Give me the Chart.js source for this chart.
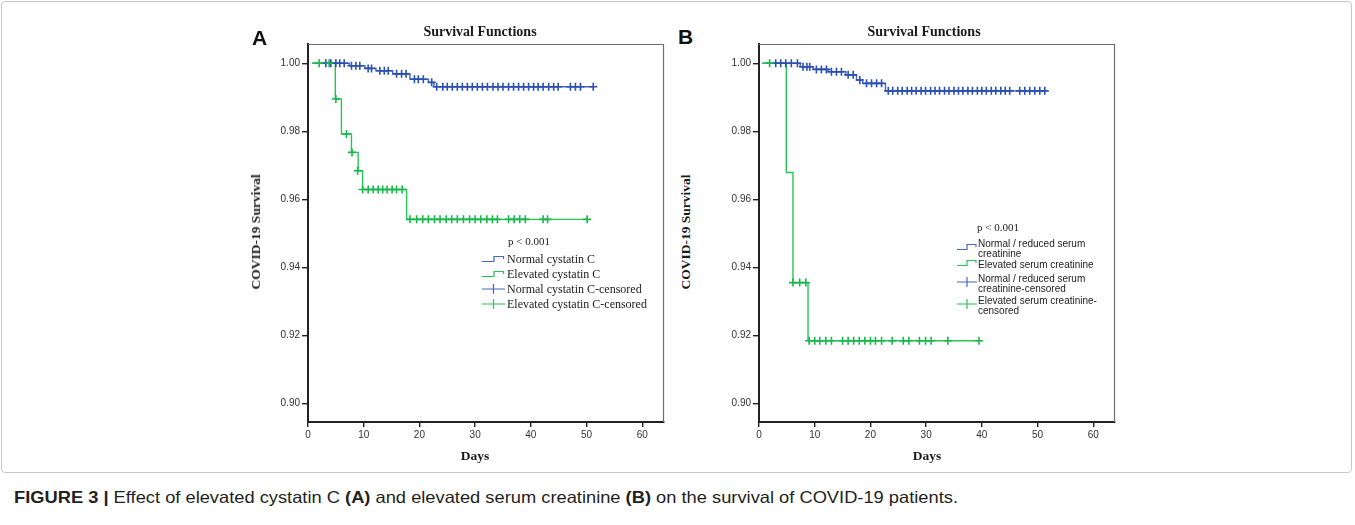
<!DOCTYPE html>
<html><head><meta charset="utf-8">
<script src="https://cdn.jsdelivr.net/npm/chart.js@4.4.0/dist/chart.umd.min.js"></script>
<style>
html,body{margin:0;padding:0;background:#fff;width:1355px;height:525px;overflow:hidden;position:relative;}
.abs{position:absolute;white-space:nowrap;line-height:1;}
.frame{position:absolute;left:1px;top:1px;width:1351px;height:472px;box-sizing:border-box;border:1px solid #c9c9c9;border-radius:4px;}
.ttl{font:bold 14px "Liberation Serif",serif;color:#1a1a1a;transform:translate(-50%,-50%);}
.xt{font:bold 13.5px "Liberation Serif",serif;color:#1a1a1a;transform:translate(-50%,-50%);}
.yt{font:bold 13.5px "Liberation Serif",serif;color:#1a1a1a;transform:translate(-50%,-50%) rotate(-90deg);}
.let{font:bold 21px "Liberation Sans",Arial,sans-serif;color:#111;}
.pv{font:11px "Liberation Serif",serif;color:#222;transform:translateY(-50%);}
.lgA{font:12px "Liberation Serif",serif;color:#222;transform:translateY(-50%);}
.lgB{font:10px "Liberation Sans",Arial,sans-serif;color:#222;transform:translateY(-50%);}
.ic{position:absolute;}
canvas{position:absolute;}
#cap{left:14px;top:488px;font:16.5px "Liberation Sans",Arial,sans-serif;color:#231f20;transform-origin:0 0;}
#cap b{font-weight:bold;}
</style>
</head>
<body>
<div class="frame"></div>

<canvas id="cA" width="416" height="418" style="left:258px;top:34px;width:416px;height:418px;"></canvas>
<canvas id="cB" width="416" height="418" style="left:709px;top:34px;width:416px;height:418px;"></canvas>

<div class="abs let" style="left:252px;top:26px;">A</div>
<div class="abs let" style="left:678px;top:25px;">B</div>

<div class="abs ttl" style="left:480px;top:32px;">Survival Functions</div>
<div class="abs ttl" style="left:924px;top:32px;">Survival Functions</div>
<div class="abs xt" style="left:475px;top:456px;">Days</div>
<div class="abs xt" style="left:927px;top:456px;">Days</div>
<div class="abs yt" style="left:256px;top:232px;">COVID-19 Survival</div>
<div class="abs yt" style="left:686px;top:232px;">COVID-19 Survival</div>

<!-- Legend A -->
<div class="abs pv" style="left:508px;top:241px;">p &lt; 0.001</div>
<svg class="ic" style="left:482px;top:254px" width="24" height="10"><path d="M0 7.5 H12 V2.5 H21.5 V5" fill="none" stroke="#4466c4" stroke-width="1.2"/></svg>
<div class="abs lgA" style="left:507px;top:259px;">Normal cystatin C</div>
<svg class="ic" style="left:482px;top:269px" width="24" height="10"><path d="M0 7.5 H12 V2.5 H21.5 V5" fill="none" stroke="#27c45a" stroke-width="1.2"/></svg>
<div class="abs lgA" style="left:507px;top:274px;">Elevated cystatin C</div>
<svg class="ic" style="left:482px;top:283px" width="24" height="12"><path d="M0 6 H23 M11.5 1 V11" fill="none" stroke="#4466c4" stroke-width="1.2"/></svg>
<div class="abs lgA" style="left:507px;top:289px;">Normal cystatin C-censored</div>
<svg class="ic" style="left:482px;top:298px" width="24" height="12"><path d="M0 6 H23 M11.5 1 V11" fill="none" stroke="#27c45a" stroke-width="1.2"/></svg>
<div class="abs lgA" style="left:507px;top:304px;">Elevated cystatin C-censored</div>

<!-- Legend B -->
<div class="abs pv" style="left:977px;top:227px;">p &lt; 0.001</div>
<svg class="ic" style="left:957px;top:242px" width="21" height="10"><path d="M0 7.5 H10 V2.5 H19 V5" fill="none" stroke="#4466c4" stroke-width="1.2"/></svg>
<div class="abs lgB" style="left:978px;top:243px;">Normal / reduced serum</div>
<div class="abs lgB" style="left:978px;top:253px;">creatinine</div>
<svg class="ic" style="left:957px;top:258px" width="21" height="10"><path d="M0 7.5 H10 V2.5 H19 V5" fill="none" stroke="#27c45a" stroke-width="1.2"/></svg>
<div class="abs lgB" style="left:978px;top:263.5px;">Elevated serum creatinine</div>
<svg class="ic" style="left:957px;top:276px" width="21" height="12"><path d="M0 6 H20 M10 1 V11" fill="none" stroke="#4466c4" stroke-width="1.2"/></svg>
<div class="abs lgB" style="left:978px;top:277.5px;">Normal / reduced serum</div>
<div class="abs lgB" style="left:978px;top:288px;">creatinine-censored</div>
<svg class="ic" style="left:957px;top:298px" width="21" height="12"><path d="M0 6 H20 M10 1 V11" fill="none" stroke="#27c45a" stroke-width="1.2"/></svg>
<div class="abs lgB" style="left:978px;top:300px;">Elevated serum creatinine-</div>
<div class="abs lgB" style="left:978px;top:309.5px;">censored</div>

<div id="cap" class="abs"><b>FIGURE 3 |</b> Effect of elevated cystatin C <b>(A)</b> and elevated serum creatinine <b>(B)</b> on the survival of COVID-19 patients.</div>

<script>
// ---------- axis ticks ----------
const xTicks = [0, 10, 20, 30, 40, 50, 60];
const yTicks = [0.90, 0.92, 0.94, 0.96, 0.98, 1.00];

// ---------- Panel A: cystatin C ----------
const aNormalDays = [0.7, 7.4, 10.2, 12.2, 15.2, 18.3, 21.6, 22.6, 51.2];
const aNormalSurv = [1.0, 0.9993, 0.9985, 0.9978, 0.9969, 0.9953, 0.9944, 0.9931, 0.9931];
const aNormalCensDays = [3.2, 4.1, 5.0, 5.7, 6.5, 7.8, 8.6, 9.3, 10.8, 11.4, 12.9, 13.7, 14.4, 15.9, 16.8, 17.6, 19.1, 19.8, 20.7, 22.2,
  23.1, 24.2, 25.0, 25.9, 26.8, 27.7, 28.6, 29.5, 30.4, 31.3, 32.2, 33.2, 34.1, 35.0, 36.0, 36.9, 37.8, 38.7, 39.6, 40.5, 41.3, 42.2, 43.2, 44.1, 44.9, 47.1, 48.0, 48.9, 51.2];
const aNormalCensSurv = [1.0, 1.0, 1.0, 1.0, 1.0, 0.9993, 0.9993, 0.9993, 0.9985, 0.9985, 0.9978, 0.9978, 0.9978, 0.9969, 0.9969, 0.9969, 0.9953, 0.9953, 0.9953, 0.9944,
  0.9931, 0.9931, 0.9931, 0.9931, 0.9931, 0.9931, 0.9931, 0.9931, 0.9931, 0.9931, 0.9931, 0.9931, 0.9931, 0.9931, 0.9931, 0.9931, 0.9931, 0.9931, 0.9931, 0.9931, 0.9931, 0.9931, 0.9931, 0.9931, 0.9931, 0.9931, 0.9931, 0.9931, 0.9931];

const aElevDays = [0.7, 4.9, 6.0, 7.8, 9.0, 9.8, 17.7, 50.1];
const aElevSurv = [1.0, 0.9895, 0.9792, 0.9738, 0.9684, 0.9629, 0.9541, 0.9541];
const aElevCensDays = [2.0, 3.8, 5.0, 6.9, 7.9, 8.9, 9.8, 10.8, 11.7, 12.6, 13.4, 14.2, 15.1, 15.9, 16.9,
  18.3, 19.5, 20.6, 21.6, 22.7, 23.7, 24.8, 25.8, 26.8, 27.9, 29.0, 30.0, 31.0, 32.1, 33.1, 34.0, 36.0, 37.0, 38.0, 39.0, 42.2, 43.0, 50.1];
const aElevCensSurv = [1.0, 1.0, 0.9895, 0.9792, 0.9738, 0.9684, 0.9629, 0.9629, 0.9629, 0.9629, 0.9629, 0.9629, 0.9629, 0.9629, 0.9629,
  0.9541, 0.9541, 0.9541, 0.9541, 0.9541, 0.9541, 0.9541, 0.9541, 0.9541, 0.9541, 0.9541, 0.9541, 0.9541, 0.9541, 0.9541, 0.9541, 0.9541, 0.9541, 0.9541, 0.9541, 0.9541, 0.9541, 0.9541];

// ---------- Panel B: serum creatinine ----------
const bNormalDays = [0.6, 7.4, 9.7, 12.4, 15.6, 17.5, 18.6, 22.7, 51.3];
const bNormalSurv = [1.0, 0.9990, 0.9982, 0.9975, 0.9966, 0.9951, 0.9941, 0.9919, 0.9919];
const bNormalCensDays = [3.0, 3.9, 4.8, 5.8, 6.9, 7.9, 8.6, 9.1, 10.3, 11.2, 12.1, 13.0, 13.9, 14.8, 16.0, 16.9, 18.1, 19.3, 20.2, 21.1, 22.0,
  23.2, 24.0, 24.9, 25.7, 26.6, 27.4, 28.2, 29.1, 29.9, 30.8, 31.6, 32.4, 33.3, 34.1, 35.0, 35.8, 36.6, 37.5, 38.3, 39.2, 40.0, 40.8, 41.7, 42.5, 43.4, 44.2, 45.0,
  46.8, 47.7, 48.6, 49.5, 50.4, 51.3];
const bNormalCensSurv = [1.0, 1.0, 1.0, 1.0, 1.0, 0.9990, 0.9990, 0.9990, 0.9982, 0.9982, 0.9982, 0.9975, 0.9975, 0.9975, 0.9966, 0.9966, 0.9951, 0.9941, 0.9941, 0.9941, 0.9941,
  0.9919, 0.9919, 0.9919, 0.9919, 0.9919, 0.9919, 0.9919, 0.9919, 0.9919, 0.9919, 0.9919, 0.9919, 0.9919, 0.9919, 0.9919, 0.9919, 0.9919, 0.9919, 0.9919, 0.9919, 0.9919, 0.9919, 0.9919, 0.9919, 0.9919, 0.9919, 0.9919,
  0.9919, 0.9919, 0.9919, 0.9919, 0.9919, 0.9919];

const bElevDays = [0.6, 4.9, 6.1, 8.8, 39.5];
const bElevSurv = [1.0, 0.9679, 0.9355, 0.9184, 0.9184];
const bElevCensDays = [1.9, 6.1, 7.3, 8.4, 9.0, 10.0, 10.9, 12.0, 13.0, 15.0, 16.0, 17.0, 18.0, 19.0, 20.0, 20.9, 22.0, 23.9, 25.9, 26.9, 28.8, 29.9, 30.9, 33.9, 39.5];
const bElevCensSurv = [1.0, 0.9355, 0.9355, 0.9355, 0.9184, 0.9184, 0.9184, 0.9184, 0.9184, 0.9184, 0.9184, 0.9184, 0.9184, 0.9184, 0.9184, 0.9184, 0.9184, 0.9184, 0.9184, 0.9184, 0.9184, 0.9184, 0.9184, 0.9184, 0.9184];

// ---------- styles ----------
const BLUE_LINE = '#4466c4', BLUE_MARK = '#2b4fb4';
const GREEN_LINE = '#27c45a', GREEN_MARK = '#16b84a';

function toPts(xs, ys) { return xs.map((x, i) => ({ x: x, y: ys[i] })); }

const framePlugin = {
  id: 'frame',
  beforeDatasetsDraw(chart) {
    const { ctx, chartArea: a } = chart;
    ctx.save();
    ctx.strokeStyle = '#6e6e6e';
    ctx.lineWidth = 1.2;
    ctx.beginPath();
    ctx.moveTo(a.left, a.top + 0.5);
    ctx.lineTo(a.right - 0.5, a.top + 0.5);
    ctx.lineTo(a.right - 0.5, a.bottom);
    ctx.stroke();
    ctx.restore();
  }
};

function kmChart(id, curves) {
  const datasets = [];
  curves.forEach(c => datasets.push({
    data: toPts(c.cd, c.cs), showLine: false, pointStyle: 'cross', pointRadius: 4, pointHoverRadius: 4,
    pointBorderWidth: 1.6, pointBorderColor: c.mark, pointBackgroundColor: c.mark, borderColor: c.mark
  }));
  curves.forEach(c => datasets.push({
    data: toPts(c.d, c.s), stepped: 'before', borderColor: c.line, borderWidth: 1.4, pointRadius: 0, fill: false
  }));
  const tickFont = { family: 'Liberation Sans', size: 10 };
  return new Chart(document.getElementById(id), {
    type: 'line',
    data: { datasets: datasets },
    options: {
      responsive: false, animation: false, devicePixelRatio: 1,
      layout: { padding: { top: 10, right: 10, left: 0, bottom: 0 } },
      plugins: { legend: { display: false }, tooltip: { enabled: false } },
      scales: {
        x: {
          type: 'linear', min: 0, max: 63.9,
          afterBuildTicks: s => { s.ticks = xTicks.map(v => ({ value: v })); },
          afterFit: s => { s.height = 30; },
          grid: { drawOnChartArea: false, drawTicks: true, tickLength: 5, tickColor: '#222', lineWidth: 1.4 },
          border: { display: true, color: '#222', width: 2 },
          ticks: { font: tickFont, color: '#333', padding: 2, maxRotation: 0, autoSkip: false, callback: v => String(v) }
        },
        y: {
          type: 'linear', min: 0.8945, max: 1.005676,
          afterBuildTicks: s => { s.ticks = yTicks.map(v => ({ value: v })); },
          afterFit: s => { s.width = 50; },
          grid: { drawOnChartArea: false, drawTicks: true, tickLength: 6, tickColor: '#222', lineWidth: 1.4 },
          border: { display: true, color: '#222', width: 2 },
          ticks: { font: tickFont, color: '#333', padding: 2, autoSkip: false, callback: v => Number(v).toFixed(2) }
        }
      }
    },
    plugins: [framePlugin]
  });
}

kmChart('cA', [
  { d: aElevDays, s: aElevSurv, cd: aElevCensDays, cs: aElevCensSurv, line: GREEN_LINE, mark: GREEN_MARK },
  { d: aNormalDays, s: aNormalSurv, cd: aNormalCensDays, cs: aNormalCensSurv, line: BLUE_LINE, mark: BLUE_MARK }
]);
kmChart('cB', [
  { d: bElevDays, s: bElevSurv, cd: bElevCensDays, cs: bElevCensSurv, line: GREEN_LINE, mark: GREEN_MARK },
  { d: bNormalDays, s: bNormalSurv, cd: bNormalCensDays, cs: bNormalCensSurv, line: BLUE_LINE, mark: BLUE_MARK }
]);

// fit caption width to the reference span
(function () {
  const cap = document.getElementById('cap');
  const w = cap.getBoundingClientRect().width;
  cap.style.transform = 'scaleX(' + (944 / w) + ')';
})();
</script>
</body></html>
